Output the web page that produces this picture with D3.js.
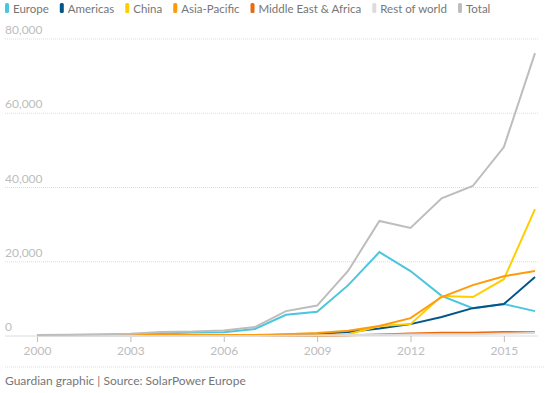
<!DOCTYPE html>
<html>
<head>
<meta charset="utf-8">
<script src="https://cdn.jsdelivr.net/npm/d3@7"></script>
<style>
  body { margin: 0; background: #fff; }
  svg { font-family: Lato, "DejaVu Sans", sans-serif; }
</style>
</head>
<body>
<svg width="550" height="393"></svg>
<script>
var years = [2000, 2001, 2002, 2003, 2004, 2005, 2006, 2007, 2008,
             2009, 2010, 2011, 2012, 2013, 2014, 2015, 2016];

var europe      = [100, 200, 300, 250, 700, 950, 1000, 1900, 5700, 6500, 13700, 22600, 17500, 10800, 7500, 8600, 6700];
var americas    = [20, 30, 50, 80, 100, 120, 150, 200, 350, 550, 1100, 2000, 3200, 5100, 7500, 8600, 15900];
var china       = [10, 10, 20, 10, 10, 10, 10, 20, 40, 200, 500, 2700, 3200, 10800, 10500, 15300, 34200];
var asiaPacific = [150, 200, 250, 300, 350, 300, 300, 250, 500, 800, 1400, 2700, 4800, 10500, 13700, 16100, 17500];
var mea         = [0, 0, 0, 0, 0, 0, 0, 10, 50, 100, 200, 400, 700, 900, 900, 1100, 1000];
var restOfWorld = [0, 0, 0, 0, 0, 0, 0, 30, 80, 120, 250, 300, 400, 500, 500, 650, 800];
var total       = [280, 330, 440, 580, 1100, 1200, 1500, 2400, 6700, 8200, 17600, 31000, 29100, 37100, 40400, 50900, 76200];

var yTicks = [0, 20000, 40000, 60000, 80000];
var xTicks = [2000, 2003, 2006, 2009, 2012, 2015];

var series = [
    {name: "Europe", values: europe, color: "#4bc6df"},
    {name: "Americas", values: americas, color: "#005689"},
    {name: "China", values: china, color: "#ffce00"},
    {name: "Asia-Pacific", values: asiaPacific, color: "#ff9b0b"},
    {name: "Middle East & Africa", values: mea, color: "#ea6a0b"},
    {name: "Rest of world", values: restOfWorld, color: "#dcdcdc"},
    {name: "Total", values: total, color: "#bdbdbd"}
];

var svg = d3.select("svg");

var x = d3.scaleLinear().domain([2000, 2016]).range([37, 535]);
var y = d3.scaleLinear().domain([0, 80000]).range([336, 39]);

// legend
var lx = 5;
series.forEach(function(s) {
    var g = svg.append("g").attr("transform", "translate(" + lx + ",0)");
    g.append("rect")
        .attr("x", 0).attr("y", 3)
        .attr("width", 4).attr("height", 10)
        .attr("rx", 1.5)
        .attr("fill", s.color);
    var t = g.append("text")
        .attr("x", 8).attr("y", 12.5)
        .attr("font-size", "11.5px")
        .attr("fill", "#767676")
        .text(s.name);
    lx += 8 + t.node().getComputedTextLength() + 11;
});

// gridlines
svg.selectAll(".grid")
    .data(yTicks.slice(1))
    .enter()
    .append("line")
    .attr("x1", 5).attr("x2", 538)
    .attr("y1", function(d) { return y(d); })
    .attr("y2", function(d) { return y(d); })
    .attr("stroke", "#dcdcdc")
    .attr("stroke-dasharray", "1,1");

svg.selectAll(".ylab")
    .data(yTicks)
    .enter()
    .append("text")
    .attr("x", 5)
    .attr("y", function(d) { return y(d) - 5; })
    .attr("font-size", "12px")
    .attr("fill", "#bdbdbd")
    .text(function(d) { return d3.format(",")(d); });

// baseline and x axis
svg.append("line")
    .attr("x1", 5).attr("x2", 538)
    .attr("y1", y(0)).attr("y2", y(0))
    .attr("stroke", "#dcdcdc");

var xAxis = svg.append("g")
    .attr("transform", "translate(0," + y(0) + ")")
    .call(d3.axisBottom(x).tickValues(xTicks).tickFormat(d3.format("d")).tickSize(6).tickPadding(4));
xAxis.select(".domain").remove();
xAxis.selectAll("line").attr("stroke", "#bdbdbd");
xAxis.selectAll("text")
    .attr("fill", "#bdbdbd")
    .attr("font-size", "12px")
    .attr("font-family", "Lato, 'DejaVu Sans', sans-serif");

// lines
var line = d3.line()
    .x(function(d, i) { return x(years[i]); })
    .y(function(d) { return y(d); });

svg.selectAll(".series")
    .data(series)
    .enter()
    .append("path")
    .attr("d", function(d) { return line(d.values); })
    .attr("fill", "none")
    .attr("stroke", function(d) { return d.color; })
    .attr("stroke-width", 2);

// footer
svg.append("line")
    .attr("x1", 5).attr("x2", 545)
    .attr("y1", 367).attr("y2", 367)
    .attr("stroke", "#dcdcdc")
    .attr("stroke-dasharray", "1,1");

svg.append("text")
    .attr("x", 5).attr("y", 385)
    .attr("font-size", "12px")
    .attr("fill", "#767676")
    .text("Guardian graphic | Source: SolarPower Europe");
</script>
</body>
</html>
